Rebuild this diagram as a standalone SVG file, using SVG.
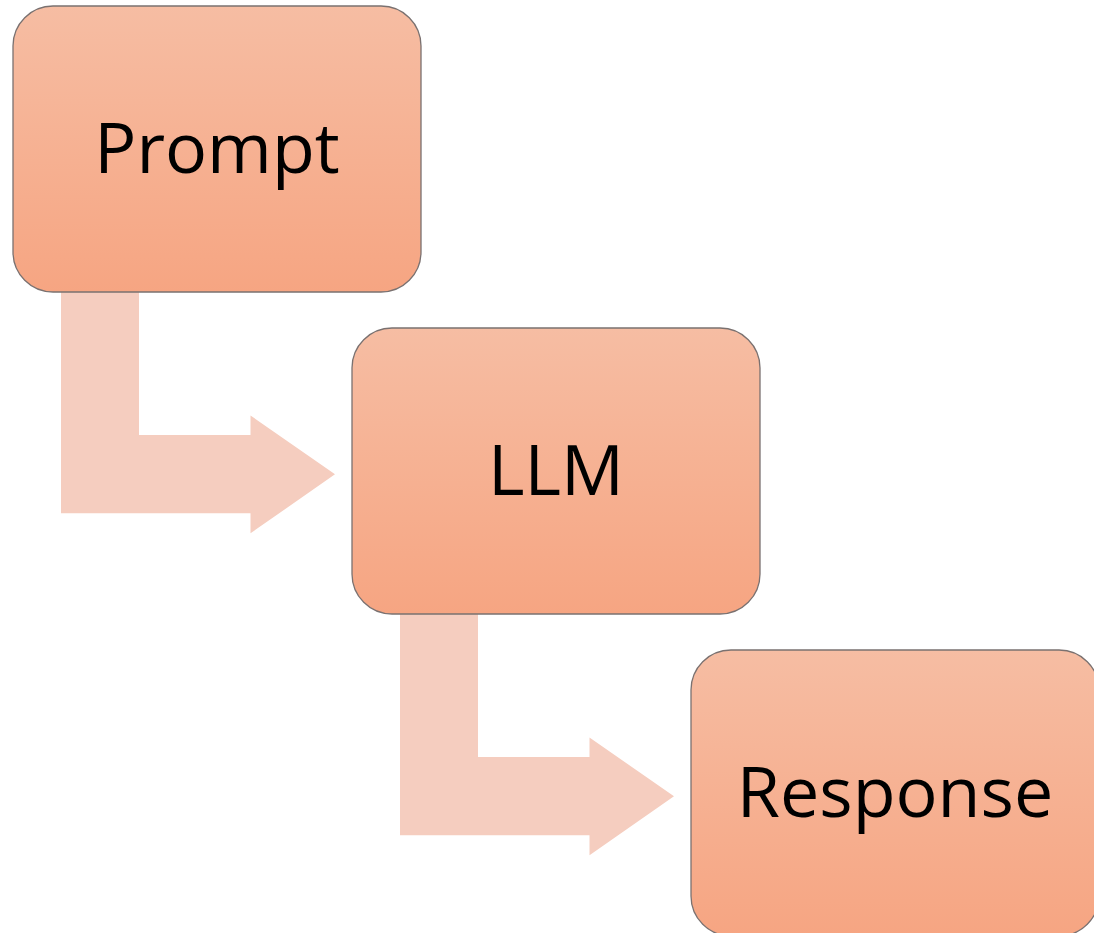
<svg xmlns="http://www.w3.org/2000/svg" width="1094" height="933" viewBox="0 0 1094 933">
<style>
.box{fill:url(#g);stroke:#7a7170;stroke-width:1.3}
.lbl{font-family:"Open Sans","Liberation Sans",sans-serif;font-size:70px;fill:#000;text-anchor:middle}
.arr{fill:#F5CDBF}
</style>
<defs>
<linearGradient id="g" x1="0" y1="0" x2="0" y2="1">
<stop offset="0" stop-color="#F6BDA3"/>
<stop offset="1" stop-color="#F6A582"/>
</linearGradient>
</defs>
<rect width="1094" height="933" fill="#fff"/>
<g id="connectors">
<path class="arr" d="M61,292 H139 V435 H250.5 V415.5 L335,474.3 L250.5,533.3 V513.3 H61 Z"/>
<path class="arr" d="M400,614 H478 V757 H589.5 V737.5 L674,796.3 L589.5,855.3 V835.3 H400 Z"/>
</g>
<g id="prompt">
<rect class="box" x="13" y="6" width="408" height="286" rx="40" ry="40"/>
<text class="lbl" x="217" y="173">Prompt</text>
</g>
<g id="llm">
<rect class="box" x="352" y="328" width="408" height="286" rx="40" ry="40"/>
<text class="lbl" x="556" y="495">LLM</text>
</g>
<g id="response">
<rect class="box" x="691" y="650" width="408" height="286" rx="40" ry="40"/>
<text class="lbl" x="895" y="817">Response</text>
</g>
</svg>
